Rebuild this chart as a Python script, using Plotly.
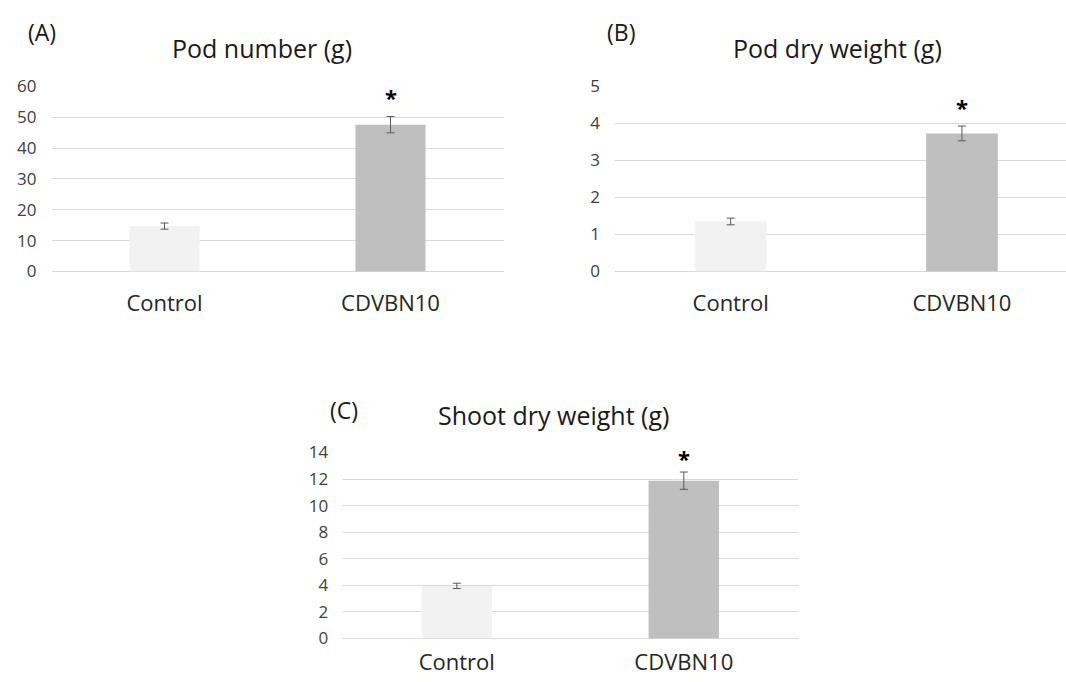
import plotly.graph_objects as go

categories = ["Control", "CDVBN10"]
bar_colors = ["#F2F2F2", "#BFBFBF"]

pod_number = [14.7, 47.6]
pod_number_err = [1.0, 2.65]

pod_dry_weight = [1.35, 3.73]
pod_dry_weight_err = [0.09, 0.2]

shoot_dry_weight = [3.96, 11.88]
shoot_dry_weight_err = [0.2, 0.65]

titles = ["Pod number (g)", "Pod dry weight (g)", "Shoot dry weight (g)"]
panel_labels = ["(A)", "(B)", "(C)"]
y_ranges = [[0, 60], [0, 5], [0, 14]]
y_dticks = [10, 1, 2]

W, H = 1066, 682
FONT = "Open Sans"

# the captured picture places the figure in rows ~8..674, so target pixel rows
# are mapped back into figure rows before converting to paper coordinates
Y_OFF, Y_SCALE = 7.8, 0.9766


def px_x(v):
    return v / W


def px_y(v):
    fy = (v - Y_OFF) / Y_SCALE
    return 1 - fy / H


panels = [
    dict(vals=pod_number, err=pod_number_err, x0=51.5, x1=504, ytop=83, ybot=270,
         spacing=226, title_xy=(262, 44), lab_xy=(42, 28), standoff=17, star_shift=2),
    dict(vals=pod_dry_weight, err=pod_dry_weight_err, x0=615, x1=1066, ytop=83, ybot=270,
         spacing=231.3, title_xy=(837, 44), lab_xy=(621, 28), standoff=17, star_shift=2),
    dict(vals=shoot_dry_weight, err=shoot_dry_weight_err, x0=343.3, x1=797.5, ytop=453, ybot=641,
         spacing=227, title_xy=(553, 415), lab_xy=(344, 410), standoff=8, star_shift=-3),
]

fig = go.Figure()
annotations = []
layout_axes = {}

for i, p in enumerate(panels):
    n = i + 1
    xa = "x" if n == 1 else f"x{n}"
    ya = "y" if n == 1 else f"y{n}"
    fig.add_trace(go.Bar(
        x=categories, y=p["vals"], xaxis=xa, yaxis=ya,
        marker=dict(color=bar_colors, line=dict(width=0)),
        width=0.31,
        error_y=dict(type="data", array=p["err"], visible=True,
                     color="#595959", thickness=1, width=4),
        showlegend=False, hoverinfo="skip",
    ))
    width_px = p["x1"] - p["x0"]
    xr = [-0.5, -0.5 + width_px / p["spacing"]]
    layout_axes[f"xaxis{'' if n == 1 else n}"] = dict(
        domain=[px_x(p["x0"]), px_x(p["x1"])], anchor=ya, range=xr,
        type="category", showgrid=False, zeroline=False, showline=False,
        ticks="", tickfont=dict(family=FONT, size=22, color="#262626"),
        ticklabelstandoff=p["standoff"], fixedrange=True,
    )
    layout_axes[f"yaxis{'' if n == 1 else n}"] = dict(
        domain=[px_y(p["ybot"]), px_y(p["ytop"])], anchor=xa,
        range=y_ranges[i], dtick=y_dticks[i], tick0=0,
        showgrid=True, gridcolor="#D9D9D9", gridwidth=1,
        zeroline=True, zerolinecolor="#D9D9D9", zerolinewidth=1,
        showline=False, ticks="",
        tickfont=dict(family=FONT, size=17, color="#404040"),
        ticklabelstandoff=14, fixedrange=True,
    )
    # significance star above treated bar
    annotations.append(dict(
        x=categories[1], y=p["vals"][1] + p["err"][1], xref=xa, yref=ya,
        text="<b>*</b>", showarrow=False, yanchor="bottom", yshift=p["star_shift"],
        font=dict(family=FONT, size=22, color="#000000"),
    ))
    annotations.append(dict(
        x=px_x(p["title_xy"][0]), y=px_y(p["title_xy"][1]), xref="paper", yref="paper",
        text=titles[i], showarrow=False, xanchor="center", yanchor="middle",
        font=dict(family=FONT, size=25, color="#1a1a1a"),
    ))
    annotations.append(dict(
        x=px_x(p["lab_xy"][0]), y=px_y(p["lab_xy"][1]), xref="paper", yref="paper",
        text=panel_labels[i], showarrow=False, xanchor="center", yanchor="middle",
        font=dict(family=FONT, size=23, color="#1a1a1a"),
    ))

fig.update_layout(
    width=W, height=H, margin=dict(l=0, r=0, t=0, b=0),
    paper_bgcolor="white", plot_bgcolor="white",
    annotations=annotations, **layout_axes,
)

fig.write_html("out.html", config={"displayModeBar": False})
